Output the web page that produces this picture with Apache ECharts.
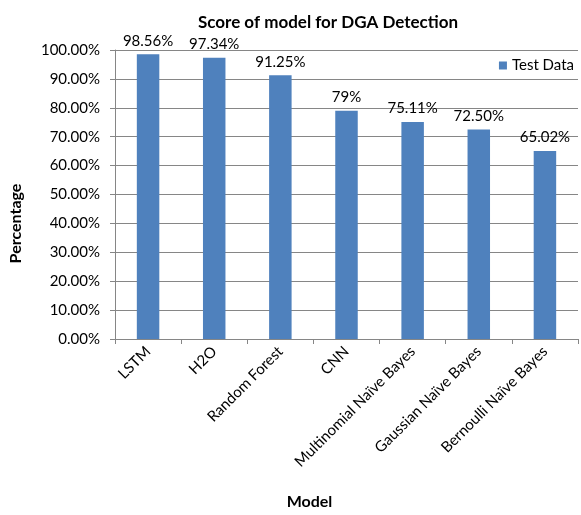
<!DOCTYPE html>
<html>
<head>
<meta charset="utf-8">
<script src="https://cdn.jsdelivr.net/npm/echarts@6/dist/echarts.min.js"></script>
<style>
  html, body { margin: 0; padding: 0; background: #fff; }
  #chart { width: 581px; height: 515px; }
</style>
</head>
<body>
<div id="chart"></div>
<script>
// chart data
var models = ['LSTM', 'H2O', 'Random Forest', 'CNN', 'Multinomial Naïve Bayes', 'Gaussian Naïve Bayes', 'Bernoulli Naïve Bayes'];
var scores = [98.56, 97.34, 91.25, 79, 75.11, 72.50, 65.02];
var scoreLabels = ['98.56%', '97.34%', '91.25%', '79%', '75.11%', '72.50%', '65.02%'];

var font = 'Lato, "Open Sans", sans-serif';
var chart = echarts.init(document.getElementById('chart'));

chart.setOption({
  animation: false,
  textStyle: { fontFamily: font },
  title: {
    text: 'Score of model for DGA Detection',
    left: 323,
    top: 9,
    textAlign: 'center',
    textStyle: { fontFamily: font, fontSize: 17, fontWeight: 'bold', color: '#000' }
  },
  legend: {
    data: ['Test Data'],
    right: 2,
    top: 53,
    icon: 'rect',
    itemWidth: 8,
    itemHeight: 8,
    itemGap: 4,
    textStyle: { fontFamily: font, fontSize: 15, color: '#000' }
  },
  grid: {
    left: 115,
    right: 3,
    top: 50,
    bottom: 175
  },
  xAxis: {
    type: 'category',
    data: models,
    name: 'Model',
    nameLocation: 'middle',
    nameGap: 155,
    // shift name left of the axis middle
    nameTextStyle: { fontFamily: font, fontSize: 16, fontWeight: 'bold', color: '#000', padding: [0, 74, 0, 0] },
    axisLine: { lineStyle: { color: '#868686' } },
    axisTick: { show: true, length: 5, lineStyle: { color: '#868686' } },
    axisLabel: {
      rotate: 45,
      margin: 10,
      interval: 0,
      fontFamily: font,
      fontSize: 15,
      color: '#000'
    }
  },
  yAxis: {
    type: 'value',
    min: 0,
    max: 100,
    interval: 10,
    name: 'Percentage',
    nameLocation: 'middle',
    nameGap: 91,
    nameRotate: 90,
    // shift name below the axis middle
    nameTextStyle: { fontFamily: font, fontSize: 16, fontWeight: 'bold', color: '#000', padding: [0, 58, 0, 0] },
    axisLine: { show: true, lineStyle: { color: '#868686' } },
    axisTick: { show: true, length: 5, lineStyle: { color: '#868686' } },
    splitLine: { lineStyle: { color: '#868686' } },
    axisLabel: {
      margin: 15,
      fontFamily: font,
      fontSize: 15,
      color: '#000',
      formatter: function (v) { return v.toFixed(2) + '%'; }
    }
  },
  series: [
    {
      name: 'Test Data',
      type: 'bar',
      data: scores,
      barWidth: '34%',
      itemStyle: { color: '#4F81BD' },
      label: {
        show: true,
        position: 'top',
        distance: 6,
        fontFamily: font,
        fontSize: 15,
        color: '#000',
        formatter: function (p) { return scoreLabels[p.dataIndex]; }
      }
    }
  ]
});
</script>
</body>
</html>
